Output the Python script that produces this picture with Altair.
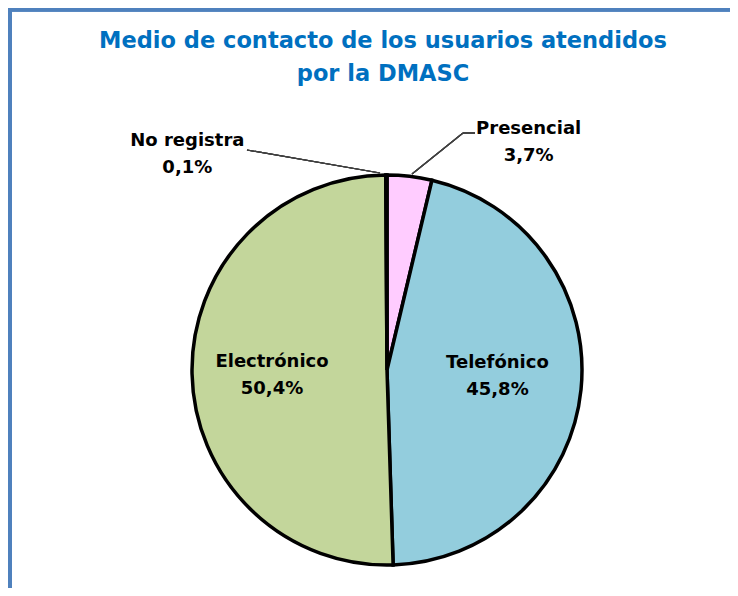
import altair as alt
import pandas as pd

categories = ["Presencial", "Telefónico", "Electrónico", "No registra"]
values = [3.7, 45.8, 50.4, 0.1]
colors = ["#FFCCFF", "#93CDDD", "#C3D69B", "#D9D9D9"]
title_lines = ["Medio de contacto de los usuarios atendidos", "por la DMASC"]

df = pd.DataFrame({
    "cat": categories,
    "value": values,
    "idx": list(range(len(categories))),
    "label": [f"{c}\n{str(v).replace('.', ',')}%" for c, v in zip(categories, values)],
})

CX, CY, R = 376, 359, 195
FONT = "DejaVu Sans"

base = alt.Chart(df)

pie = base.mark_arc(outerRadius=R, stroke="black", strokeWidth=3.5).encode(
    theta=alt.Theta("value:Q", stack=True, scale=alt.Scale(domain=[0, 100])),
    color=alt.Color("cat:N", scale=alt.Scale(domain=categories, range=colors), legend=None),
    order=alt.Order("idx:Q"),
    x=alt.value(CX),
    y=alt.value(CY),
)

lab_base = base.transform_window(
    cum="sum(value)", sort=[alt.SortField("idx")], frame=[None, 0]
).transform_calculate(mid="datum.cum - datum.value / 2")

label_cfg = {
    "Presencial": dict(radius=230, dx=115, dy=-13),
    "No registra": dict(radius=217, dx=-199, dy=-12),
    "Electrónico": dict(radius=115, dx=0, dy=-10),
    "Telefónico": dict(radius=111, dx=0, dy=-18),
}

labels = []
for cat, cfg in label_cfg.items():
    labels.append(
        lab_base.transform_filter(alt.datum.cat == cat).mark_text(
            font=FONT, fontSize=18, fontWeight="bold", color="black",
            lineBreak="\n", lineHeight=27, align="center", baseline="middle", **cfg
        ).encode(
            theta=alt.Theta("mid:Q", stack=None, scale=alt.Scale(domain=[0, 100])),
            text="label:N",
            x=alt.value(CX),
            y=alt.value(CY),
        )
    )

title = alt.Chart(pd.DataFrame({"t": [0]})).mark_text(
    text=title_lines, font=FONT, fontSize=22.5, fontWeight="bold", color="#0070C0",
    lineHeight=33, align="center", baseline="middle",
).encode(x=alt.value(372), y=alt.value(30))

lead1 = base.mark_rule(color="#404040", strokeWidth=1.2).encode(
    x=alt.value(236), y=alt.value(139), x2=alt.value(369), y2=alt.value(162))
lead2 = base.mark_rule(color="#404040", strokeWidth=1.2).encode(
    x=alt.value(452), y=alt.value(122), x2=alt.value(401), y2=alt.value(163))
lead3 = base.mark_rule(color="#404040", strokeWidth=1.2).encode(
    x=alt.value(452), y=alt.value(122), x2=alt.value(464), y2=alt.value(122))

frame_left = base.mark_rule(color="#4F81BD", strokeWidth=4).encode(
    x=alt.value(-1), y=alt.value(-3), y2=alt.value(600))
frame_top = base.mark_rule(color="#4F81BD", strokeWidth=4).encode(
    x=alt.value(-3), x2=alt.value(730), y=alt.value(-1.5))

chart = alt.layer(pie, *labels, title, lead1, lead2, lead3, frame_left, frame_top).properties(
    width=719, height=577,
    autosize=alt.AutoSizeParams(type="none"),
    padding={"left": 3, "top": 3, "right": 0, "bottom": 0},
).configure_view(stroke=None)

chart.save("out.html", embed_options={"renderer": "svg", "actions": False})
